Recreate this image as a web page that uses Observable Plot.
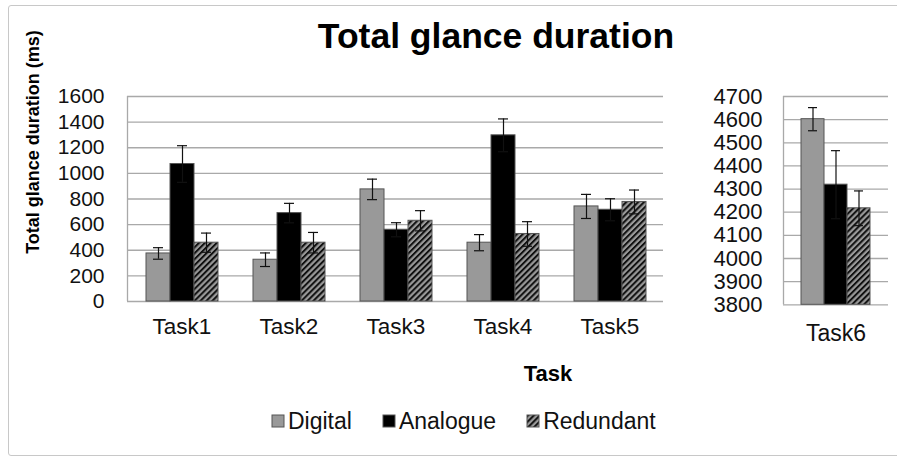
<!DOCTYPE html>
<html>
<head>
<meta charset="utf-8">
<script src="https://cdn.jsdelivr.net/npm/d3@7"></script>
<script src="https://cdn.jsdelivr.net/npm/@observablehq/plot@0.6"></script>
<style>
  body { margin: 0; background: #fff; font-family: "Liberation Sans", Arial, sans-serif; }
  #fig { position: relative; width: 897px; height: 457px; overflow: hidden; background: #fff; }
  #frame { position: absolute; left: 8px; top: 5px; width: 900px; height: 449px; border: 1.5px solid #c8c8c8; border-radius: 3px; }
  .layer { position: absolute; top: 0; }
  #title { position: absolute; left: 246px; width: 500px; top: 18px; line-height: 36px; font-size: 35.5px; font-weight: bold; text-align: center; color: #000; }
  #ylabel { position: absolute; left: -117px; width: 300px; top: 132px; line-height: 20px; font-size: 18px; font-weight: bold; text-align: center; transform: rotate(-90deg); color: #000; }
  #xlabel { position: absolute; left: 498px; width: 100px; top: 363px; line-height: 22px; font-size: 22px; font-weight: bold; text-align: center; color: #000; }
  #legend { position: absolute; left: 272px; top: 406px; }
  #legend .lg-swatches { font-size: 23px !important; font-family: "Liberation Sans", Arial, sans-serif !important; color: #111; margin: 0 !important; min-height: 30px; }
  #legend .lg-swatch { margin-right: 31px !important; }
  #legend .lg-swatch > svg { margin-right: 4px !important; }
  #legend svg rect { stroke: #555; stroke-width: 1; }
</style>
</head>
<body>
<svg width="0" height="0" style="position:absolute">
  <defs>
    <pattern id="hatch" patternUnits="userSpaceOnUse" width="4.2" height="4.2" patternTransform="rotate(45)">
      <rect width="4.2" height="4.2" fill="#9a9a9a"></rect>
      <rect width="2" height="4.2" fill="#111"></rect>
    </pattern>
  </defs>
</svg>
<div id="fig">
  <div id="frame"></div>
  <div id="title">Total glance duration</div>
  <div id="ylabel">Total glance duration (ms)</div>
  <div id="xlabel">Task</div>
  <div id="legend"></div>
</div>
<script>
// ---- data ----
const tasks = ["Task1", "Task2", "Task3", "Task4", "Task5"];
const series = ["Digital", "Analogue", "Redundant"];
const digital = [375, 326, 875, 459, 742];
const digitalErr = [45, 53, 80, 63, 94];
const analogue = [1073, 690, 560, 1297, 716];
const analogueErr = [143, 76, 55, 128, 86];
const redundant = [459, 459, 630, 527, 777];
const redundantErr = [75, 80, 79, 96, 93];
const task6 = ["Task6"];
const task6Values = [4602, 4319, 4217];
const task6Err = [50, 147, 75];
const leftTicks = [0, 200, 400, 600, 800, 1000, 1200, 1400, 1600];
const rightTicks = [3800, 3900, 4000, 4100, 4200, 4300, 4400, 4500, 4600, 4700];
const fills = ["#999999", "#000000", "url(#hatch)"];

// ---- tables ----
const leftRows = [];
tasks.forEach((t, i) => {
  leftRows.push({task: t, series: "Digital", value: digital[i], err: digitalErr[i]});
  leftRows.push({task: t, series: "Analogue", value: analogue[i], err: analogueErr[i]});
  leftRows.push({task: t, series: "Redundant", value: redundant[i], err: redundantErr[i]});
});
const rightRows = series.map((s, i) => ({task: task6[0], series: s, value: task6Values[i], err: task6Err[i]}));

const FONT = "Liberation Sans, Arial, sans-serif";
const fig = document.getElementById("fig");

function place(el, left, width) {
  const d = document.createElement("div");
  d.className = "layer";
  d.style.left = left + "px";
  d.style.width = width + "px";
  d.appendChild(el);
  fig.appendChild(d);
}

function background({width, height, margins, domain, ticks, tickPadding, fontSize}) {
  return Plot.plot({
    width, height, ...margins,
    style: {fontFamily: FONT, fontSize: fontSize + "px", background: "transparent", color: "#111", overflow: "visible"},
    x: {domain: [0, 1], axis: null},
    y: {domain, ticks, tickSize: 0, tickPadding, tickFormat: d => `${d}`, label: null},
    marks: [
      Plot.ruleY(ticks, {stroke: "#a9a9a9", strokeWidth: 1.3}),
      Plot.ruleX([0], {stroke: "#a9a9a9", strokeWidth: 1.3})
    ]
  });
}

function foreground({width, height, margins, rows, fxDomain, domain, paddingOuter, tickPadding, fontSize}) {
  return Plot.plot({
    width, height, ...margins,
    style: {fontFamily: FONT, fontSize: fontSize + "px", background: "transparent", color: "#111", overflow: "visible"},
    fx: {domain: fxDomain, padding: 0, axis: "bottom", tickSize: 0, tickPadding, label: null},
    x: {domain: series, paddingInner: 0, paddingOuter, axis: null},
    y: {domain, axis: null},
    color: {type: "ordinal", domain: series, range: fills},
    marks: [
      Plot.barY(rows, {fx: "task", x: "series", y1: domain[0], y2: "value", fill: "series", stroke: "#555", strokeWidth: 1}),
      Plot.ruleX(rows, {fx: "task", x: "series", y1: d => d.value - d.err, y2: d => d.value + d.err, stroke: "#111", strokeWidth: 1.2}),
      Plot.tickY(rows, {fx: "task", x: "series", y: d => d.value + d.err, insetLeft: 7, insetRight: 7, stroke: "#111", strokeWidth: 1.2}),
      Plot.tickY(rows, {fx: "task", x: "series", y: d => d.value - d.err, insetLeft: 7, insetRight: 7, stroke: "#111", strokeWidth: 1.2})
    ]
  });
}

const leftMargins = {marginLeft: 127, marginRight: 17, marginTop: 96, marginBottom: 49};
place(background({width: 680, height: 350, margins: leftMargins, domain: [0, 1600], ticks: leftTicks, tickPadding: 23, fontSize: 21}), 0, 680);
place(foreground({width: 680, height: 350, margins: leftMargins, rows: leftRows, fxDomain: tasks, domain: [0, 1600], paddingOuter: 0.7, tickPadding: 17, fontSize: 22.5}), 0, 680);

const rightMargins = {marginLeft: 103, marginRight: 9, marginTop: 96, marginBottom: 45.7};
place(background({width: 217, height: 350, margins: rightMargins, domain: [3800, 4700], ticks: rightTicks, tickPadding: 21, fontSize: 22}), 680, 217);
place(foreground({width: 217, height: 350, margins: rightMargins, rows: rightRows, fxDomain: task6, domain: [3800, 4700], paddingOuter: 0.75, tickPadding: 20, fontSize: 23}), 680, 217);

// legend
const legend = Plot.legend({
  color: {type: "ordinal", domain: series, range: fills},
  swatchSize: 12,
  className: "lg",
  style: {fontFamily: FONT, fontSize: "23px"}
});
document.getElementById("legend").appendChild(legend);
fig.appendChild(document.getElementById("legend"));
</script>
</body>
</html>
